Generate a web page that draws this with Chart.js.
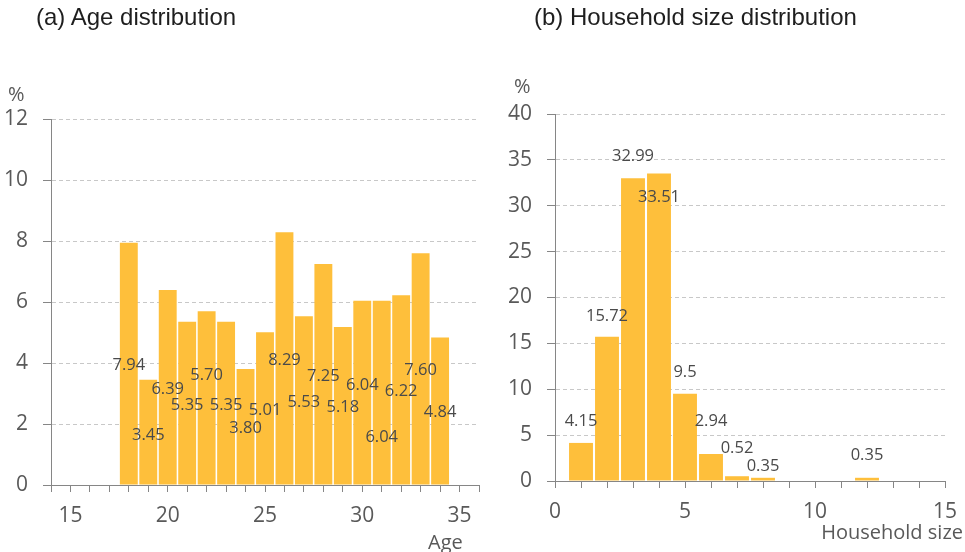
<!DOCTYPE html>
<html><head><meta charset="utf-8">
<script src="https://cdn.jsdelivr.net/npm/chart.js@4.4.0/dist/chart.umd.min.js"></script>
<style>
html,body{margin:0;padding:0;background:#fff;}
#wrap{position:relative;width:965px;height:552px;overflow:hidden;background:#fff;}
canvas{position:absolute;top:0;}
.t{position:absolute;white-space:nowrap;}
.title{font-family:"Liberation Sans",Arial,sans-serif;font-size:24px;line-height:24px;color:#1e1e1e;top:5px;}
.ax{font-family:"Open Sans",sans-serif;font-size:20px;line-height:20px;color:#595959;}
.pc{font-family:"Open Sans",sans-serif;font-size:20px;line-height:20px;color:#595959;}
</style></head><body>
<div id="wrap">
<canvas id="c1" width="482" height="552" style="left:0;width:482px;height:552px"></canvas>
<canvas id="c2" width="483" height="552" style="left:482px;width:483px;height:552px"></canvas>
<div class="t title" style="left:36px">(a) Age distribution</div>
<div class="t title" style="left:534px">(b) Household size distribution</div>
<div class="t pc" style="left:8px;top:84px">%</div>
<div class="t pc" style="left:514px;top:76px">%</div>
<div class="t ax" style="left:428px;top:532px">Age</div>
<div class="t ax" style="right:2px;top:522px">Household size</div>
</div>
<script>
// ---- data ----
const ages = [18, 19, 20, 21, 22, 23, 24, 25, 26, 27, 28, 29, 30, 31, 32, 33, 34];
const agePct = [7.94, 3.45, 6.39, 5.35, 5.70, 5.35, 3.80, 5.01, 8.29, 5.53, 7.25, 5.18, 6.04, 6.04, 6.22, 7.60, 4.84];
const ageLabelAt = [3.91, 1.64, 3.14, 2.62, 3.61, 2.62, 1.86, 2.46, 4.10, 2.71, 3.57, 2.55, 3.28, 1.56, 3.08, 3.77, 2.38];
const ageTicksY = [0, 12, 2];   // min, max, step
const ageTicksX = [14, 36, 1];

const hhSizes = [1, 2, 3, 4, 5, 6, 7, 8, 12];
const hhPct = [4.15, 15.72, 32.99, 33.51, 9.5, 2.94, 0.52, 0.35, 0.35];
const hhLabelAt = [6.47, 18.0, 35.4, 30.9, 11.85, 6.47, 3.57, 1.56, 2.76];
const hhTicksY = [0, 40, 5];
const hhTicksX = [0, 15, 1];

const BAR = '#FEBF3B';
const AXIS = '#868686';
const TICKTXT = '#595959';

const valueLabels = {
  id: 'valueLabels',
  afterDatasetsDraw(chart, args, opts) {
    const {ctx} = chart; const x = chart.scales.x, y = chart.scales.y;
    ctx.save();
    ctx.font = '16.5px "Open Sans"';
    ctx.fillStyle = '#4a4a4a';
    ctx.textAlign = 'center'; ctx.textBaseline = 'middle';
    opts.xs.forEach((xv, i) => {
      ctx.fillText(opts.texts[i], x.getPixelForValue(xv), y.getPixelForValue(opts.at[i]));
    });
    ctx.restore();
  }
};

function makeChart(id, xs, ys, labelAt, texts, tx, ty, pad, yWidth, xHeight) {
  return new Chart(document.getElementById(id), {
    type: 'bar',
    data: { datasets: [{ data: xs.map((v, i) => ({x: v, y: ys[i]})), backgroundColor: BAR, borderWidth: 0,
      barPercentage: 0.92, categoryPercentage: 1 }] },
    options: {
      responsive: false, animation: false, devicePixelRatio: 1,
      layout: { padding: pad },
      plugins: { legend: {display: false}, tooltip: {enabled: false}, title: {display: false},
        valueLabels: { xs: xs, at: labelAt, texts: texts } },
      scales: {
        x: {
          type: 'linear', min: tx[0], max: tx[1], offset: false,
          afterFit(s) { s.height = xHeight; s.paddingLeft = 0; s.paddingRight = 0; },
          grid: { display: true, drawOnChartArea: false, offset: false, tickLength: 7, tickColor: AXIS },
          border: { display: true, color: AXIS, width: 1 },
          ticks: { stepSize: tx[2], maxTicksLimit: 200, autoSkip: false, maxRotation: 0, minRotation: 0, padding: 11,
            color: TICKTXT, font: { family: '"Open Sans"', size: 21 },
            callback: v => (v % 5 === 0 ? String(v) : '') }
        },
        y: {
          min: ty[0], max: ty[1],
          afterFit(s) { s.width = yWidth; s.paddingTop = 0; s.paddingBottom = 0; },
          grid: { color: '#c8c8c8', lineWidth: 1, tickLength: 8, tickColor: AXIS, tickBorderDash: [] },
          border: { display: true, color: AXIS, width: 1, dash: [4, 3] },
          ticks: { stepSize: ty[2], maxTicksLimit: 200, padding: 15, color: TICKTXT,
            font: { family: '"Open Sans"', size: 21 } }
        }
      }
    },
    plugins: [valueLabels]
  });
}

makeChart('c1', ages, agePct, ageLabelAt, agePct.map(v => v.toFixed(2)), ageTicksX, ageTicksY,
  {left: 0, top: 119, right: 3, bottom: 0}, 51, 67);
makeChart('c2', hhSizes, hhPct, hhLabelAt, hhPct.map(v => String(v)), hhTicksX, hhTicksY,
  {left: 0, top: 114, right: 20, bottom: 0}, 73, 71);
</script>
</body></html>
